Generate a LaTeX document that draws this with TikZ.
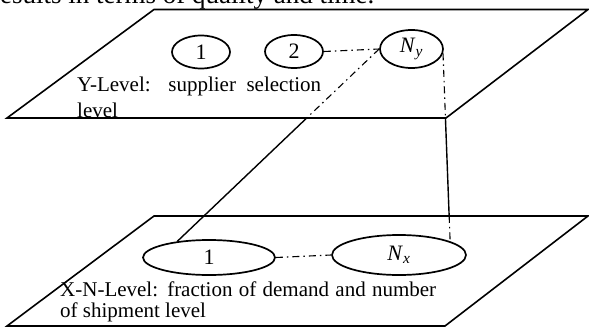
\documentclass[tikz,border=0pt]{standalone}
\usepackage{fontspec}
\setmainfont{Liberation Serif}
\usetikzlibrary{shapes.geometric,calc}
\tikzset{
  plane/.style={draw=black, line width=1.6pt, line join=miter},
  lev/.style={ellipse, draw=black, line width=1.7pt, inner sep=0pt, font=\fontsize{22}{23}\selectfont},
  dd/.style={draw=black, line width=1.1pt, dash pattern=on 7pt off 4pt on 1.5pt off 4pt},
  sol/.style={draw=black, line width=1.4pt},
  txt/.style={inner sep=0pt, anchor=base west, font=\fontsize{21}{22}\selectfont}
}
\begin{document}
\begin{tikzpicture}[x=1pt,y=-1pt]
\useasboundingbox (0,0) rectangle (589,329);
% top partial text
\node[txt, font=\fontsize{27}{29}\selectfont] (cap) at (-9,3.3) {results in terms of quality and time.};
% planes
\coordinate (ttl) at (154,9.5);
\coordinate (ttr) at (588,9.5);
\coordinate (tbr) at (446,118);
\coordinate (tbl) at (7,118);
\coordinate (btl) at (154,216);
\coordinate (btr) at (588,216);
\coordinate (bbr) at (445,326);
\coordinate (bbl) at (7,326);
\draw[plane] (ttl) -- (ttr) -- (tbr) -- (tbl) -- cycle;
\draw[plane] (btl) -- (btr) -- (bbr) -- (bbl) -- cycle;
% nodes
\node[lev, minimum width=58pt, minimum height=33pt] (y1) at (201,52) {1};
\node[lev, minimum width=58pt, minimum height=33pt] (y2) at (294,51.5) {2};
\node[lev, minimum width=63pt, minimum height=38pt] (ny) at (411.5,49) {\textit{N}\textsubscript{\textit{y}}};
\node[lev, minimum width=132pt, minimum height=35pt] (x1) at (209,257.5) {1};
\node[lev, minimum width=134pt, minimum height=40pt] (nx) at (399,255) {\textit{N}\textsubscript{\textit{x}}};
% labels
\node[txt] (ylab) at (77,92) {\makebox[244pt][s]{Y-Level: supplier selection}};
\node[txt] (ylab2) at (77,117) {level};
\node[txt] (xlab) at (60,296) {\makebox[376pt][s]{X-N-Level: fraction of demand and number}};
\node[txt] (xlab2) at (60,317) {of shipment level};
% connectors
\draw[dd] (y2.east) -- (ny.west);
\draw[dd] (x1.east) -- (nx.west);
\coordinate (lc) at (intersection of ny.west--x1.153 and tbl--tbr);
\draw[dd] (ny.west) -- (lc);
\draw[sol] (lc) -- (x1.153);
\coordinate (rc1) at (intersection of ny.-8--nx.15 and tbl--tbr);
\coordinate (rc2) at (intersection of ny.-8--nx.15 and btl--btr);
\draw[dd] (ny.-8) -- (rc1);
\draw[sol] (rc1) -- (rc2);
\draw[dd] (rc2) -- (nx.15);
\end{tikzpicture}
\end{document}
